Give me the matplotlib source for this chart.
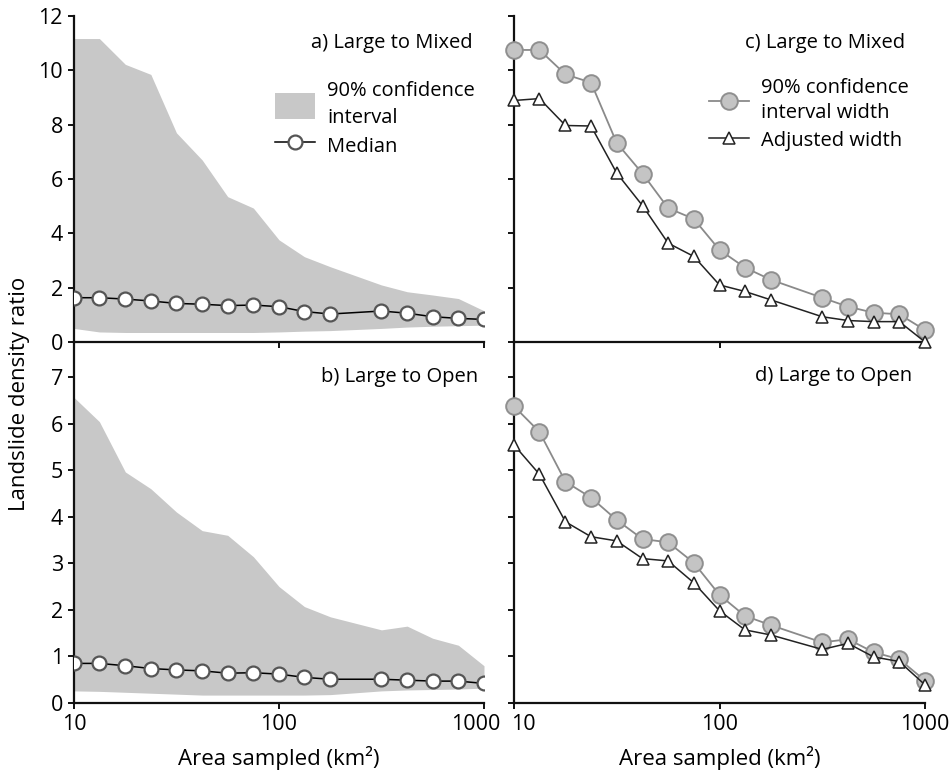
import matplotlib.pyplot as plt
import matplotlib.transforms as mtransforms
from matplotlib.patches import Patch
from matplotlib.lines import Line2D

plt.rcParams['font.family'] = ['Open Sans', 'DejaVu Sans']

area = [10, 13.3, 17.8, 23.7, 31.6, 42.2, 56.2, 75, 100, 133, 178, 316, 422, 562, 750, 1000]

# a) Large to Mixed
med_a = [1.63, 1.63, 1.58, 1.51, 1.42, 1.39, 1.34, 1.36, 1.30, 1.12, 1.03, 1.14, 1.06, 0.93, 0.87, 0.83]
hi_a = [11.17, 11.17, 10.22, 9.85, 7.7, 6.7, 5.35, 4.93, 3.76, 3.14, 2.77, 2.1, 1.85, 1.73, 1.6, 1.15]
lo_a = [0.5, 0.37, 0.35, 0.35, 0.35, 0.35, 0.35, 0.35, 0.37, 0.4, 0.42, 0.5, 0.55, 0.58, 0.6, 0.62]

# b) Large to Open
med_b = [0.85, 0.85, 0.80, 0.74, 0.71, 0.69, 0.64, 0.65, 0.62, 0.55, 0.51, 0.51, 0.49, 0.47, 0.47, 0.42]
hi_b = [6.56, 6.04, 4.96, 4.6, 4.1, 3.7, 3.6, 3.14, 2.5, 2.07, 1.85, 1.57, 1.65, 1.39, 1.24, 0.8]
lo_b = [0.26, 0.25, 0.23, 0.21, 0.19, 0.17, 0.17, 0.17, 0.17, 0.17, 0.18, 0.26, 0.28, 0.29, 0.30, 0.32]

# c) Large to Mixed - widths
ci_c = [10.75, 10.75, 9.85, 9.55, 7.33, 6.2, 4.93, 4.53, 3.39, 2.74, 2.29, 1.63, 1.30, 1.08, 1.02, 0.44]
adj_c = [8.89, 8.96, 7.97, 7.95, 6.22, 5.02, 3.64, 3.15, 2.10, 1.86, 1.55, 0.93, 0.79, 0.75, 0.75, 0.0]

# d) Large to Open - widths
ci_d = [6.37, 5.82, 4.75, 4.41, 3.93, 3.52, 3.45, 3.01, 2.32, 1.87, 1.67, 1.30, 1.37, 1.09, 0.94, 0.48]
adj_d = [5.54, 4.91, 3.89, 3.57, 3.48, 3.10, 3.05, 2.58, 1.98, 1.57, 1.46, 1.15, 1.28, 0.99, 0.89, 0.39]

band_col = '#c8c8c8'
fs = 14.5
tfs = 15.5

fig = plt.figure(figsize=(9.51, 7.73), dpi=100)
W, H = 951, 773


def box(x0, x1, y0, y1):
    return [x0 / W, 1 - y1 / H, (x1 - x0) / W, (y1 - y0) / H]


ax_a = fig.add_axes(box(74, 484, 16, 342))
ax_b = fig.add_axes(box(74, 484, 342, 703))
ax_c = fig.add_axes(box(514, 925, 16, 342))
ax_d = fig.add_axes(box(514, 925, 342, 703))

for ax in (ax_a, ax_b, ax_c, ax_d):
    ax.set_xscale('log')
    ax.set_xlim(10, 1000)
    ax.set_xticks([10, 100, 1000])
    ax.minorticks_off()
    ax.spines['top'].set_visible(False)
    ax.spines['right'].set_visible(False)
    for s in ('left', 'bottom'):
        ax.spines[s].set_linewidth(1.6)
        ax.spines[s].set_color('#111111')
    ax.tick_params(direction='out', length=4, width=1.4, pad=4, labelsize=tfs, color='#111111')
    ax.set_facecolor('none')

for ax in (ax_a, ax_c):
    ax.set_ylim(0, 12)
    ax.set_yticks(range(0, 13, 2))
    ax.set_xticklabels([])
for ax in (ax_b, ax_d):
    ax.set_ylim(0, 7.75)
    ax.set_yticks(range(0, 8))
    ax.set_xticks([10, 100, 1000])
    ax.set_xticklabels(['10', '100', '1000'])
    ax.set_xlabel('Area sampled (km²)', fontsize=16, labelpad=8)
for ax in (ax_c, ax_d):
    ax.set_yticklabels([])

# nudge the two labels that meet between the bottom panels
lab = ax_b.get_xticklabels()[2]
lab.set_transform(lab.get_transform() + mtransforms.ScaledTranslation(-8 / 100, 0, fig.dpi_scale_trans))
lab = ax_d.get_xticklabels()[0]
lab.set_transform(lab.get_transform() + mtransforms.ScaledTranslation(9 / 100, 0, fig.dpi_scale_trans))

# median panels
med_kw = dict(color='black', lw=1.1, marker='o', ms=10, mfc='white', mec='#555555', mew=1.6, zorder=3)
ax_a.fill_between(area, lo_a, hi_a, color=band_col, lw=0, zorder=1)
ax_a.plot(area, med_a, **med_kw)
ax_b.fill_between(area, lo_b, hi_b, color=band_col, lw=0, zorder=1)
ax_b.plot(area, med_b, **med_kw)

# width panels
ci_kw = dict(color='#8a8a8a', lw=1.3, marker='o', ms=12, mfc='#c4c4c4', mec='#8f8f8f', mew=1.4, zorder=3)
adj_kw = dict(color='#222222', lw=1.1, marker='^', ms=9, mfc='white', mec='#222222', mew=1.1, zorder=4)
for ax, ci, adj in ((ax_c, ci_c, adj_c), (ax_d, ci_d, adj_d)):
    ax.plot(area, ci, clip_on=False, **ci_kw)
    ax.plot(area, adj, clip_on=False, **adj_kw)

ax_a.text(0.973, 0.917, 'a) Large to Mixed', transform=ax_a.transAxes, ha='right', va='center', fontsize=fs)
ax_b.text(0.985, 0.903, 'b) Large to Open', transform=ax_b.transAxes, ha='right', va='center', fontsize=fs)
ax_c.text(0.951, 0.917, 'c) Large to Mixed', transform=ax_c.transAxes, ha='right', va='center', fontsize=fs)
ax_d.text(0.968, 0.906, 'd) Large to Open', transform=ax_d.transAxes, ha='right', va='center', fontsize=fs)

h_a = [Patch(facecolor=band_col, edgecolor='none'),
       Line2D([], [], **med_kw)]
leg = ax_a.legend(h_a, ['90% confidence\ninterval', 'Median'], loc='upper left',
                  bbox_to_anchor=(0.465, 0.83), frameon=False, fontsize=fs,
                  handlelength=2.0, handleheight=1.6, handletextpad=0.6, borderpad=0,
                  labelspacing=0.2)
for t in leg.get_texts():
    t.set_linespacing(1.45)

h_c = [Line2D([], [], **ci_kw), Line2D([], [], **adj_kw)]
leg = ax_c.legend(h_c, ['90% confidence\ninterval width', 'Adjusted width'], loc='upper left',
                  bbox_to_anchor=(0.45, 0.84), frameon=False, fontsize=fs,
                  handlelength=2.0, handletextpad=0.6, borderpad=0, labelspacing=0.35)
for t in leg.get_texts():
    t.set_linespacing(1.35)

fig.text(0.021, 0.49, 'Landslide density ratio', rotation=90, ha='center', va='center', fontsize=16)

fig.savefig('out.png', dpi=100)
